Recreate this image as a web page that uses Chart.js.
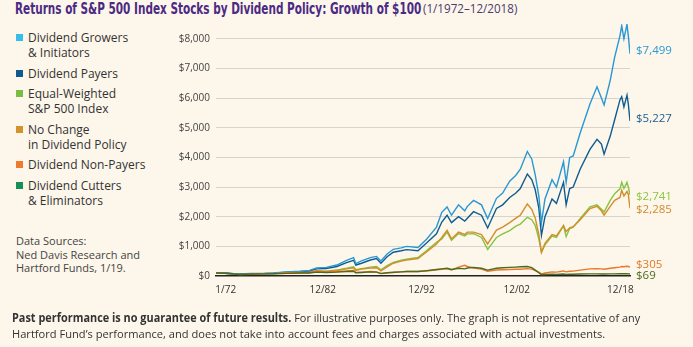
<!DOCTYPE html>
<html>
<head>
<meta charset="utf-8">
<script src="https://cdn.jsdelivr.net/npm/chart.js@4.4.1/dist/chart.umd.min.js"></script>
<style>
  html, body { margin: 0; padding: 0; }
  body { width: 693px; height: 347px; background: #fdf6ea; position: relative; overflow: hidden;
         font-family: "Open Sans", "DejaVu Sans", sans-serif; color: #333; }
  #myChart { position: absolute; left: 0; top: 0; }
  .fit { position: absolute; white-space: nowrap; transform-origin: 0 0; }
  #title { left: 15px; top: -1px; font-size: 16px; color: #4b2a84; font-weight: bold;
           font-family: "Liberation Sans Narrow", "DejaVu Sans Condensed", sans-serif; }
  #subtitle { left: 423px; top: 0px; font-size: 12px; color: #4a3b6e; }
  #legend { position: absolute; left: 16px; top: 30px; font-size: 12px; line-height: 15px; color: #333; }
  #legend .item { position: relative; padding-left: 12px; margin-bottom: 5.5px; }
  #legend .sw { position: absolute; left: 0; top: 4px; width: 7px; height: 7px; }
  #sources { position: absolute; left: 16px; top: 234px; font-size: 11px; line-height: 13.5px; color: #444; }
  .foot { left: 12px; font-size: 11.5px; color: #333; }
</style>
</head>
<body>
<div id="title" class="fit" data-w="406">Returns of S&amp;P 500 Index Stocks by Dividend Policy: Growth of $100</div>
<div id="subtitle" class="fit" data-w="94">(1/1972–12/2018)</div>
<div id="legend"></div>
<div id="sources">Data Sources:<br>Ned Davis Research and<br>Hartford Funds, 1/19.</div>
<canvas id="myChart" width="693" height="347"></canvas>
<div class="fit foot" data-w="628" style="top:310px"><b>Past performance is no guarantee of future results.</b> For illustrative purposes only. The graph is not representative of any</div>
<div class="fit foot" data-w="593" style="top:326px">Hartford Fund’s performance, and does not take into account fees and charges associated with actual investments.</div>
<script>
// dates as decimal years, values = growth of $100
const dates = [1972.0, 1973.0, 1974.7, 1976.0, 1977.5, 1978.5, 1980.0, 1981.5, 1982.6, 1983.4,
  1984.5, 1985.7, 1986.8, 1987.6, 1987.85, 1988.5, 1989.5, 1990.2, 1990.7, 1991.4,
  1992.1, 1993.0, 1993.6, 1994.9, 1995.9, 1997.0, 1997.6, 1998.2, 1998.7, 1999.5,
  2000.2, 2000.5, 2001.2, 2002.1, 2002.8, 2003.8, 2004.5, 2005.3, 2006.0, 2006.5,
  2007.3, 2007.8, 2008.2, 2008.6, 2008.9, 2009.3, 2010.1, 2010.6, 2011.4, 2011.7,
  2012.1, 2012.5, 2013.3, 2014.4, 2015.2, 2015.7, 2016.0, 2016.7, 2017.2, 2017.8,
  2018.0, 2018.25, 2018.6, 2018.75, 2018.94];

const growers = [100, 105, 65, 85, 90, 100, 135, 160, 190, 275,
  290, 370, 530, 620, 420, 510, 620, 660, 510, 740,
  900, 950, 1000, 960, 1250, 1650, 2150, 2330, 2050, 2400,
  2200, 2350, 2550, 2400, 1940, 2620, 2800, 3200, 3400, 3600,
  4200, 3950, 3400, 2700, 1800, 2600, 3250, 3000, 3850, 3160,
  4000, 4050, 4830, 5800, 6380, 6000, 5770, 6600, 7380, 8100,
  8440, 8000, 8490, 8100, 7499];

const payers = [100, 103, 60, 80, 85, 95, 125, 145, 170, 240,
  255, 320, 450, 530, 370, 430, 540, 590, 430, 650,
  800, 850, 890, 855, 1120, 1425, 1820, 2050, 1800, 2000,
  1850, 1950, 2170, 2050, 1620, 2280, 2400, 2650, 2800, 2950,
  3440, 3250, 2900, 2300, 1370, 2000, 2600, 2450, 3160, 2400,
  2950, 3000, 3610, 4270, 4610, 4450, 4110, 4720, 5270, 5940,
  6050, 5700, 6100, 5800, 5227];

const equalWeighted = [100, 95, 55, 75, 80, 85, 100, 115, 130, 170,
  160, 200, 260, 310, 210, 250, 300, 320, 205, 350,
  455, 530, 570, 625, 855, 1140, 1250, 1480, 1200, 1430,
  1350, 1420, 1430, 1300, 900, 1300, 1420, 1530, 1680, 1750,
  1980, 1900, 1700, 1250, 800, 1050, 1350, 1300, 1700, 1330,
  1600, 1650, 1940, 2330, 2400, 2250, 2160, 2550, 2775, 2940,
  3160, 2950, 3160, 3000, 2741];

const noChange = [100, 95, 55, 70, 75, 80, 95, 110, 120, 160,
  155, 185, 240, 280, 190, 230, 270, 280, 170, 310,
  430, 500, 540, 590, 820, 1080, 1300, 1540, 1250, 1480,
  1400, 1480, 1480, 1400, 1080, 1550, 1650, 1800, 1950, 2050,
  2430, 2250, 1950, 1400, 800, 1100, 1400, 1350, 1700, 1500,
  1620, 1665, 1900, 2275, 2350, 2200, 2050, 2350, 2550, 2650,
  2890, 2700, 2850, 2750, 2285];

const nonPayers = [100, 90, 45, 60, 70, 80, 110, 120, 120, 170,
  140, 150, 170, 190, 120, 130, 150, 140, 90, 110,
  120, 140, 150, 150, 170, 210, 230, 250, 200, 300,
  360, 320, 270, 230, 160, 200, 210, 220, 230, 230,
  250, 230, 180, 130, 70, 100, 140, 130, 170, 140,
  160, 165, 200, 240, 250, 240, 230, 260, 280, 300,
  320, 310, 330, 320, 305];

const cutters = [100, 95, 50, 65, 70, 75, 90, 100, 100, 130,
  120, 130, 150, 160, 110, 120, 140, 130, 80, 110,
  125, 140, 150, 150, 180, 220, 240, 260, 220, 260,
  240, 270, 290, 260, 200, 260, 280, 290, 300, 310,
  320, 280, 200, 110, 40, 50, 60, 55, 65, 55,
  60, 60, 65, 70, 72, 68, 65, 70, 72, 75,
  76, 74, 75, 73, 69];

const seriesNames = ['Dividend Growers|& Initiators', 'Dividend Payers', 'Equal-Weighted|S&P 500 Index',
  'No Change|in Dividend Policy', 'Dividend Non-Payers', 'Dividend Cutters|& Eliminators'];
const endLabels = ['$7,499', '$5,227', '$2,741', '$2,285', '$305', '$69'];
const yTicks = [0, 1000, 2000, 3000, 4000, 5000, 6000, 7000, 8000];
const xTickLabels = ['1/72', '12/82', '12/92', '12/02', '12/18'];
const xTickAt = [1973.1, 1984.1, 1995.3, 2006.1, 2017.85];

const lineColors = ['#2897d3', '#0e5c91', '#86c441', '#d48d2c', '#e9782c', '#4d6a1d'];
const swatchColors = ['#37bdeb', '#0f5a8e', '#78be43', '#d4922b', '#ef7a2e', '#159157'];
const labelColors = ['#2a9ad6', '#1c5e8f', '#8cc63f', '#d08a2a', '#e07a2a', '#4c6b1e'];
const labelNudge = [-3, -2, 2, 1, -2, 2];

// html legend
var legendHtml = "";
for (var i = 0; i < seriesNames.length; i++) {
    legendHtml += "<div class='item'><span class='sw' style='background:" + swatchColors[i] + "'></span>" +
        seriesNames[i].replace('&', '&amp;').split('|').join('<br>') + "</div>";
}
document.getElementById('legend').innerHTML = legendHtml;

// squeeze the condensed text lines to their widths
document.querySelectorAll('.fit').forEach(function (el) {
    var w = el.offsetWidth;
    el.style.transform = 'scaleX(' + (parseFloat(el.dataset.w) / w) + ')';
});

function toPoints(vals) {
    return dates.map(function (d, i) { return {x: d, y: vals[i]}; });
}

const allSeries = [growers, payers, equalWeighted, noChange, nonPayers, cutters];
const drawOrder = [2, 3, 1, 0, 4, 5];
var datasets = [];
for (var k = 0; k < drawOrder.length; k++) {
    var s = drawOrder[k];
    datasets.push({
        label: seriesNames[s].replace('|', ' '),
        data: toPoints(allSeries[s]),
        borderColor: lineColors[s],
        borderWidth: 1.4,
        pointRadius: 0,
        tension: 0,
        seriesIndex: s,
        order: drawOrder.length - k
    });
}

const endLabelPlugin = {
    id: 'endLabels',
    afterDatasetsDraw: function (chart) {
        var ctx = chart.ctx;
        var yScale = chart.scales.y;
        ctx.save();
        ctx.font = '11.5px "Open Sans", sans-serif';
        ctx.textBaseline = 'middle';
        ctx.textAlign = 'left';
        chart.data.datasets.forEach(function (ds) {
            var s = ds.seriesIndex;
            var last = ds.data[ds.data.length - 1].y;
            ctx.fillStyle = labelColors[s];
            ctx.fillText(endLabels[s], chart.chartArea.right + 6, yScale.getPixelForValue(last) + labelNudge[s]);
        });
        ctx.restore();
    }
};

new Chart(document.getElementById('myChart'), {
    type: 'line',
    data: { datasets: datasets },
    options: {
        responsive: false,
        devicePixelRatio: 1,
        animation: false,
        layout: { padding: { left: 0, right: 63, top: 24, bottom: 0 } },
        scales: {
            x: {
                type: 'linear',
                min: 1972,
                max: 2018.94,
                afterBuildTicks: function (scale) {
                    scale.ticks = xTickAt.map(function (v) { return {value: v}; });
                },
                afterFit: function (scale) { scale.height = 71; },
                grid: { display: false, drawTicks: false },
                border: { display: true, color: '#222', width: 1.6 },
                ticks: {
                    autoSkip: false,
                    maxRotation: 0,
                    padding: 8,
                    color: '#333',
                    font: { family: 'Open Sans', size: 10 },
                    callback: function (v, i) { return xTickLabels[i]; }
                }
            },
            y: {
                min: 0,
                max: 8500,
                afterBuildTicks: function (scale) {
                    scale.ticks = yTicks.map(function (v) { return {value: v}; });
                },
                afterFit: function (scale) { scale.width = 216; },
                grid: {
                    drawTicks: false,
                    lineWidth: 1,
                    color: function (c) { return c.tick && c.tick.value === 0 ? 'rgba(0,0,0,0)' : '#d6d4cf'; }
                },
                border: { display: false },
                ticks: {
                    padding: 6,
                    color: '#444',
                    font: { family: 'Open Sans', size: 10 },
                    callback: function (v) { return '$' + v.toLocaleString('en-US'); }
                }
            }
        },
        plugins: {
            legend: { display: false },
            tooltip: { enabled: false }
        }
    },
    plugins: [endLabelPlugin]
});
</script>
</body>
</html>
